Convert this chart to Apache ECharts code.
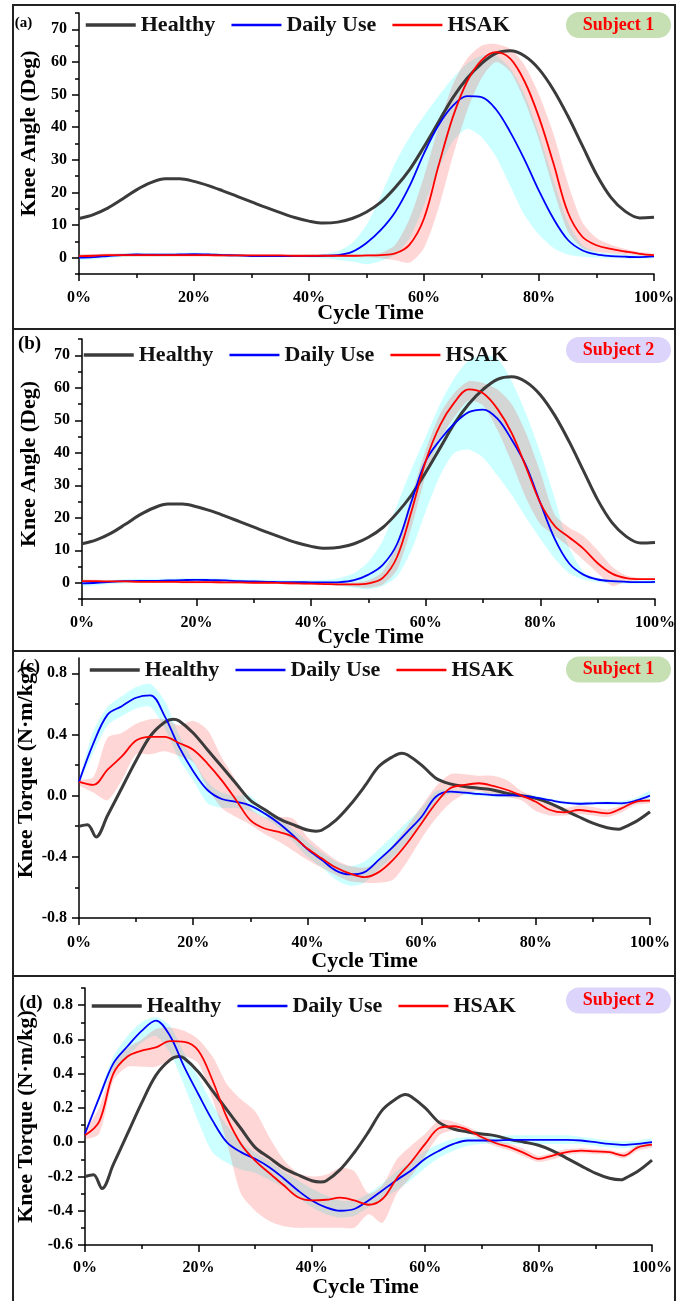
<!DOCTYPE html>
<html>
<head>
<meta charset="utf-8">
<script src="https://cdn.jsdelivr.net/npm/echarts@6/dist/echarts.min.js"></script>
<style>
  html, body { margin: 0; padding: 0; background: #fff; }
  #chart { width: 689px; height: 1301px; }
</style>
</head>
<body>
<div id="chart"></div>
<script>
// gait cycle sample points (%)
const pct = [0,2.5,5,7.5,10,12.5,15,17.5,20,22.5,25,27.5,30,32.5,35,37.5,40,42.5,45,47.5,50,
  52.5,55,57.5,60,62.5,65,67.5,70,72.5,75,77.5,80,82.5,85,87.5,90,92.5,95,97.5,100];

// healthy reference knee angle (same in a and b)
const healthyAngle = [12.0,13.2,15.2,17.9,20.8,23.0,24.2,24.2,23.4,22.1,20.5,18.8,17.1,15.4,13.8,12.3,11.2,10.6,10.9,12.0,14.0,
  17.0,21.5,27.0,34.0,41.5,49.0,55.0,59.5,62.6,63.4,61.8,57.8,51.5,43.5,34.5,25.5,18.5,14.2,12.2,12.4];

// (a) subject 1 knee angle
const dailyAngleA = [0.0,0.2,0.5,0.8,1.0,0.9,0.9,1.0,1.1,1.0,0.8,0.7,0.5,0.5,0.5,0.5,0.5,0.6,0.8,1.8,4.5,
  8.5,14.0,22.0,32.0,40.5,46.5,49.5,49.2,45.5,38.5,30.0,20.5,12.0,5.5,2.3,1.0,0.5,0.3,0.2,0.4];
const dailyAngleUpA = [0.8,0.9,1.1,1.3,1.5,1.4,1.4,1.5,1.6,1.5,1.3,1.1,0.9,0.9,0.9,0.9,1.0,1.2,2.0,4.5,10.0,
  19.0,29.0,37.0,43.5,49.5,55.0,59.5,62.0,62.0,58.0,50.0,38.0,24.0,11.0,4.0,1.8,1.2,1.0,0.9,1.0];
const dailyAngleLowA = [-0.6,-0.5,-0.2,0.2,0.4,0.4,0.4,0.5,0.6,0.5,0.3,0.2,0.1,0.1,0.1,0.1,0.0,-0.2,-0.6,-1.2,-2.0,
  -1.0,1.0,6.0,16.0,27.0,35.5,39.5,37.0,31.0,22.0,13.0,7.0,3.0,1.0,0.3,0.0,-0.2,-0.3,-0.3,-0.2];
const hsakAngleA = [0.5,0.6,0.8,0.8,0.8,0.8,0.8,0.8,0.8,0.8,0.7,0.7,0.7,0.7,0.7,0.6,0.6,0.6,0.6,0.6,0.7,
  0.8,1.3,4.0,12.0,28.0,43.0,54.0,60.5,63.0,61.0,54.0,43.0,29.0,14.0,6.5,3.8,2.7,1.9,1.2,0.8];
const hsakAngleUpA = [1.0,1.1,1.3,1.3,1.3,1.3,1.2,1.2,1.2,1.2,1.1,1.1,1.0,1.0,1.0,0.9,0.9,0.9,0.9,0.9,1.0,
  1.5,4.0,12.0,25.0,40.0,53.0,61.0,65.0,65.5,64.0,59.0,50.0,38.0,23.0,11.0,6.0,4.0,2.7,1.8,1.2];
const hsakAngleLowA = [0.0,0.1,0.3,0.3,0.3,0.3,0.3,0.3,0.3,0.3,0.3,0.3,0.3,0.3,0.3,0.3,0.3,0.3,0.3,0.2,0.1,
  -0.2,-0.8,-1.5,3.0,15.0,31.0,45.0,55.0,60.0,57.0,48.0,36.0,21.0,8.0,3.0,1.8,1.3,1.0,0.7,0.5];

// (b) subject 2 knee angle
const dailyAngleB = [-0.2,0.0,0.3,0.5,0.6,0.6,0.7,0.8,0.9,0.8,0.7,0.5,0.4,0.3,0.2,0.2,0.1,0.1,0.2,0.8,2.5,
  5.5,12.0,25.0,37.5,44.0,49.0,52.5,53.3,50.5,44.0,36.0,24.5,13.5,6.0,2.5,1.0,0.5,0.3,0.2,0.3];
const dailyAngleUpB = [0.6,0.7,0.9,1.1,1.2,1.2,1.3,1.4,1.5,1.4,1.3,1.1,1.0,0.9,0.8,0.8,0.8,0.9,1.5,3.0,6.5,
  13.0,24.0,35.0,45.0,55.0,63.0,68.5,70.0,69.0,62.0,52.0,40.0,26.0,11.0,3.5,1.5,1.0,0.8,0.7,0.8];
const dailyAngleLowB = [-1.0,-0.8,-0.4,-0.2,0.0,0.0,0.1,0.2,0.3,0.2,0.1,-0.1,-0.2,-0.3,-0.4,-0.4,-0.5,-0.6,-1.0,-1.5,-2.0,
  -1.0,2.0,10.0,22.0,33.0,40.0,41.0,38.5,33.0,27.0,20.0,13.5,7.5,3.0,1.0,0.2,-0.2,-0.3,-0.3,-0.2];
const hsakAngleB = [0.5,0.5,0.4,0.4,0.3,0.3,0.3,0.2,0.2,0.2,0.1,0.1,0.0,0.0,-0.1,-0.2,-0.3,-0.4,-0.5,-0.5,-0.2,
  1.5,8.0,22.0,37.5,48.5,55.5,59.5,58.3,53.5,46.0,35.5,24.5,17.5,14.0,10.5,6.0,2.8,1.4,1.1,1.1];
const hsakAngleUpB = [0.9,0.9,0.8,0.8,0.7,0.7,0.7,0.6,0.6,0.6,0.5,0.5,0.4,0.4,0.3,0.2,0.1,0.0,0.0,0.1,0.8,
  3.5,12.0,27.0,41.0,52.0,58.5,62.0,61.5,59.5,55.0,46.0,34.0,21.0,17.0,14.5,10.0,5.0,2.2,1.5,1.3];
const hsakAngleLowB = [0.1,0.1,0.0,0.0,-0.1,-0.1,-0.1,-0.2,-0.2,-0.2,-0.3,-0.3,-0.4,-0.4,-0.5,-0.6,-0.7,-0.8,-1.0,-1.2,-1.5,
  -0.5,4.0,17.0,33.0,44.0,51.0,56.0,54.5,47.0,37.0,26.0,18.0,14.5,11.0,7.0,3.0,-1.0,0.5,0.8,0.9];

// healthy reference knee torque (same in c and d), own sample points
const healthyTorqueX = [0,1.5,3,5,7.5,10,12.5,15,16.5,17.5,20,22.5,25,27.5,30,32.5,35,37.5,40,41.5,42.5,45,47.5,50,
  52.5,55,56.5,57.5,60,62.5,65,67.5,70,72.5,75,77.5,80,82.5,85,87.5,90,92.5,94.5,95,97.5,100];
const healthyTorque = [-0.20,-0.19,-0.27,-0.13,0.05,0.23,0.39,0.48,0.50,0.49,0.41,0.30,0.19,0.08,-0.03,-0.09,-0.15,-0.19,-0.225,-0.232,-0.226,-0.16,-0.06,0.06,
  0.19,0.256,0.278,0.267,0.20,0.114,0.077,0.06,0.048,0.037,0.015,0.0,-0.018,-0.05,-0.094,-0.138,-0.18,-0.21,-0.219,-0.215,-0.17,-0.105];

// (c) subject 1 knee torque
const dailyTorqueC = [0.09,0.34,0.53,0.585,0.64,0.655,0.52,0.32,0.16,0.037,-0.022,-0.04,-0.065,-0.116,-0.18,-0.26,-0.35,-0.42,-0.49,-0.515,-0.5,
  -0.42,-0.335,-0.237,-0.138,-0.007,0.026,0.02,0.011,0.004,0.002,0.0,-0.013,-0.03,-0.046,-0.053,-0.05,-0.048,-0.05,-0.033,0.0];
const dailyTorqueUpC = [0.10,0.42,0.58,0.65,0.71,0.73,0.62,0.40,0.23,0.09,0.02,0.0,0.0,-0.09,-0.15,-0.22,-0.30,-0.37,-0.43,-0.46,-0.43,
  -0.35,-0.26,-0.17,-0.08,0.03,0.04,0.035,0.025,0.02,0.015,0.012,0.0,-0.018,-0.035,-0.04,-0.038,-0.036,-0.035,-0.015,0.03];
const dailyTorqueLowC = [0.08,0.28,0.46,0.52,0.57,0.58,0.44,0.24,0.10,-0.05,-0.08,-0.08,-0.10,-0.145,-0.21,-0.30,-0.40,-0.47,-0.55,-0.59,-0.57,
  -0.48,-0.40,-0.30,-0.19,-0.04,0.01,0.005,-0.003,-0.01,-0.012,-0.012,-0.025,-0.042,-0.057,-0.066,-0.063,-0.06,-0.065,-0.05,-0.03];
const hsakTorqueC = [0.09,0.07,0.17,0.256,0.36,0.384,0.384,0.344,0.30,0.21,0.10,-0.028,-0.16,-0.215,-0.237,-0.27,-0.346,-0.41,-0.47,-0.51,-0.533,
  -0.5,-0.42,-0.31,-0.18,-0.05,0.048,0.07,0.081,0.064,0.037,0.0,-0.04,-0.094,-0.11,-0.094,-0.105,-0.116,-0.083,-0.04,-0.033];
const hsakTorqueUpC = [0.10,0.12,0.38,0.41,0.47,0.50,0.50,0.46,0.49,0.43,0.25,0.10,-0.08,-0.14,-0.14,-0.15,-0.27,-0.35,-0.42,-0.46,-0.47,
  -0.43,-0.32,-0.20,-0.07,0.06,0.14,0.14,0.13,0.13,0.10,0.03,-0.01,-0.06,-0.08,-0.065,-0.075,-0.09,-0.065,-0.025,-0.02];
const hsakTorqueLowC = [0.07,0.02,-0.03,0.10,0.27,0.27,0.29,0.26,0.22,0.05,-0.08,-0.14,-0.19,-0.25,-0.30,-0.36,-0.42,-0.47,-0.52,-0.56,-0.57,
  -0.57,-0.55,-0.43,-0.28,-0.15,-0.05,0.01,0.03,0.0,-0.01,-0.03,-0.10,-0.13,-0.13,-0.12,-0.13,-0.14,-0.11,-0.06,-0.05];

// (d) subject 2 knee torque
const dailyTorqueD = [0.05,0.26,0.46,0.56,0.65,0.71,0.62,0.44,0.28,0.126,0.0,-0.058,-0.097,-0.146,-0.21,-0.28,-0.34,-0.38,-0.40,-0.39,-0.34,
  -0.28,-0.22,-0.165,-0.097,-0.049,-0.01,0.01,0.01,0.01,0.014,0.014,0.014,0.014,0.014,0.01,0.0,-0.01,-0.016,-0.01,0.0];
const dailyTorqueUpD = [0.06,0.28,0.50,0.62,0.70,0.73,0.68,0.52,0.38,0.22,0.10,0.0,-0.06,-0.11,-0.17,-0.22,-0.27,-0.31,-0.34,-0.34,-0.30,
  -0.24,-0.17,-0.11,-0.05,-0.01,0.02,0.03,0.03,0.035,0.04,0.04,0.04,0.04,0.04,0.03,0.02,0.01,0.005,0.01,0.02];
const dailyTorqueLowD = [0.04,0.24,0.42,0.50,0.58,0.62,0.52,0.33,0.12,-0.06,-0.12,-0.16,-0.18,-0.22,-0.26,-0.32,-0.38,-0.42,-0.44,-0.43,-0.38,
  -0.33,-0.28,-0.22,-0.15,-0.09,-0.05,-0.02,-0.01,-0.01,-0.01,-0.01,-0.01,-0.01,-0.01,-0.01,-0.02,-0.03,-0.035,-0.03,-0.02];
const hsakTorqueD = [0.04,0.12,0.40,0.50,0.534,0.553,0.59,0.586,0.534,0.36,0.146,-0.01,-0.107,-0.18,-0.25,-0.32,-0.34,-0.336,-0.324,-0.34,-0.365,
  -0.33,-0.21,-0.117,-0.01,0.083,0.093,0.072,0.029,-0.006,-0.03,-0.064,-0.097,-0.078,-0.058,-0.049,-0.054,-0.058,-0.078,-0.03,-0.014];
const hsakTorqueUpD = [0.06,0.20,0.45,0.55,0.60,0.66,0.67,0.65,0.60,0.50,0.34,0.25,0.18,0.03,-0.10,-0.18,-0.20,-0.19,-0.15,-0.17,-0.30,
  -0.25,-0.10,-0.02,0.05,0.13,0.12,0.09,0.05,0.01,-0.01,-0.04,-0.08,-0.06,-0.04,-0.035,-0.04,-0.045,-0.06,-0.015,0.0];
const hsakTorqueLowD = [0.02,0.05,0.36,0.44,0.44,0.44,0.48,0.50,0.46,0.25,0.0,-0.30,-0.40,-0.46,-0.49,-0.50,-0.50,-0.50,-0.50,-0.50,-0.42,
  -0.47,-0.30,-0.20,-0.08,0.04,0.07,0.055,0.01,-0.025,-0.05,-0.085,-0.115,-0.10,-0.075,-0.065,-0.07,-0.072,-0.095,-0.05,-0.03];

// tick labels
const angleTicks = [0,10,20,30,40,50,60,70];
const angleMinor = [-5,5,15,25,35,45,55,65,75];
const torqueTicksC = [-0.8,-0.4,0,0.4,0.8];
const torqueMinorC = [-0.6,-0.2,0.2,0.6];
const torqueTicksD = [-0.6,-0.4,-0.2,0,0.2,0.4,0.6,0.8];
const torqueMinorD = [-0.5,-0.3,-0.1,0.1,0.3,0.5,0.7,0.9];
const seriesNames = ['Healthy', 'Daily Use', 'HSAK'];

const SERIF = '"Liberation Serif", "Times New Roman", serif';
const CYAN = 'rgba(0,255,255,0.2)';
const PINK = 'rgba(255,0,0,0.16)';
const LINE_COLORS = { 'Healthy': '#3b3b3b', 'Daily Use': '#0000ff', 'HSAK': '#ff0000' };
const LINE_WIDTHS = { 'Healthy': 3, 'Daily Use': 1.8, 'HSAK': 1.8 };

function pairs(xs, ys) {
  return xs.map((x, i) => [x, ys[i]]);
}

function line(g, name, xs, ys) {
  const color = LINE_COLORS[name];
  return {
    type: 'line', name: name, xAxisIndex: g, yAxisIndex: g * 2,
    data: pairs(xs, ys), symbol: 'none', showSymbol: false, smooth: 0.35,
    color: color, lineStyle: { color: color, width: LINE_WIDTHS[name] }, z: 3, silent: true
  };
}

// shaded +-SD band, drawn as one polygon through the axis scales
function band(g, up, low, color) {
  return {
    type: 'custom', xAxisIndex: g, yAxisIndex: g * 2, clip: true, silent: true, z: 2,
    data: [[50, 0]],
    renderItem: function (params, api) {
      const pts = [];
      for (let i = 0; i < pct.length; i++) pts.push(api.coord([pct[i], up[i]]));
      for (let i = pct.length - 1; i >= 0; i--) pts.push(api.coord([pct[i], low[i]]));
      return { type: 'polygon', shape: { points: pts, smooth: 0.25 }, style: { fill: color } };
    }
  };
}

const labelFont = { color: '#000', fontFamily: SERIF, fontWeight: 'bold', fontSize: 16 };
const nameFont = { color: '#000', fontFamily: SERIF, fontWeight: 'bold', fontSize: 22 };

function xAxis(g, nameGap, shift, margin) {
  return {
    type: 'value', gridIndex: g, min: 0, max: 100, interval: 20,
    axisLine: { onZero: false, lineStyle: { color: '#000', width: 1.5 } },
    axisTick: { length: 7, lineStyle: { color: '#000', width: 1.5 } },
    minorTick: { show: true, splitNumber: 2, length: 4, lineStyle: { color: '#000', width: 1.5 } },
    splitLine: { show: false },
    axisLabel: Object.assign({ formatter: v => v + '%', margin: margin, showMinLabel: true, showMaxLabel: true }, labelFont),
    name: 'Cycle Time', nameLocation: 'middle', nameGap: nameGap, nameMoveOverlap: false,
    nameTextStyle: Object.assign({ padding: shift > 0 ? [0, 0, 0, shift * 2] : [0, -shift * 2, 0, 0] }, nameFont)
  };
}

function yAxes(g, min, max, ticks, minor, fmt, name, nameGap, up) {
  const main = {
    type: 'value', gridIndex: g, position: 'left', min: min, max: max,
    axisLine: { show: true, onZero: false, lineStyle: { color: '#000', width: 1.5 } },
    axisTick: { show: true, length: 7, customValues: ticks, lineStyle: { color: '#000', width: 1.5 } },
    splitLine: { show: false },
    axisLabel: Object.assign({ customValues: ticks, formatter: fmt, margin: 12 }, labelFont),
    name: name, nameLocation: 'middle', nameGap: nameGap, nameMoveOverlap: false,
    nameTextStyle: Object.assign({ padding: [0, 0, 0, up * 2] }, nameFont)
  };
  const minorAxis = {
    type: 'value', gridIndex: g, position: 'left', min: min, max: max,
    axisLine: { show: false, onZero: false },
    axisTick: { show: true, length: 4, customValues: minor, lineStyle: { color: '#000', width: 1.5 } },
    axisLabel: { show: false, customValues: minor },
    splitLine: { show: false }
  };
  return [main, minorAxis];
}

const fmtInt = v => String(Math.round(v));
const fmtOne = v => (Math.abs(v) < 1e-9 ? 0 : v).toFixed(1);

function panelSeries(g, hx, hy, daily, dUp, dLow, hsak, hUp, hLow) {
  return [
    band(g, dUp, dLow, CYAN),
    band(g, hUp, hLow, PINK),
    line(g, 'Healthy', hx, hy),
    line(g, 'Daily Use', pct, daily),
    line(g, 'HSAK', pct, hsak)
  ];
}

function legend(left, top) {
  return {
    left: left, top: top, padding: 0, orient: 'horizontal', itemWidth: 50, itemHeight: 14, itemGap: 15,
    selectedMode: false,
    data: seriesNames.map(n => ({ name: n, lineStyle: { color: LINE_COLORS[n], width: LINE_WIDTHS[n] + 0.5 } })),
    itemStyle: { opacity: 0 },
    textStyle: { color: '#111', fontFamily: SERIF, fontWeight: 'bold', fontSize: 22 }
  };
}

function badge(cy, text, fill) {
  return [
    { type: 'rect', shape: { x: 566, y: cy - 13, width: 105, height: 26, r: 13 }, style: { fill: fill }, z: 10 },
    { type: 'text', x: 618.5, y: cy, z: 11,
      style: { text: text, fill: '#ff0000', font: 'bold 18px ' + SERIF, textAlign: 'center', textVerticalAlign: 'middle' } }
  ];
}

function tag(cx, cy, text, size) {
  return { type: 'text', x: cx, y: cy, z: 11,
    style: { text: text, fill: '#000', font: 'bold ' + size + 'px ' + SERIF, textAlign: 'center', textVerticalAlign: 'middle' } };
}

const frame = [
  { type: 'rect', shape: { x: 13, y: 5, width: 662, height: 1330 }, style: { fill: 'none', stroke: '#222', lineWidth: 2 }, z: 20 },
  { type: 'line', shape: { x1: 13, y1: 329, x2: 675, y2: 329 }, style: { stroke: '#222', lineWidth: 2 }, z: 20 },
  { type: 'line', shape: { x1: 13, y1: 651, x2: 675, y2: 651 }, style: { stroke: '#222', lineWidth: 2 }, z: 20 },
  { type: 'line', shape: { x1: 13, y1: 976, x2: 675, y2: 976 }, style: { stroke: '#222', lineWidth: 2 }, z: 20 }
];

const option = {
  animation: false,
  backgroundColor: '#fff',
  grid: [
    { left: 79, top: 13, width: 575, height: 261, outerBoundsMode: 'none' },
    { left: 82, top: 339, width: 573, height: 260, outerBoundsMode: 'none' },
    { left: 79, top: 658, width: 571, height: 260, outerBoundsMode: 'none' },
    { left: 85, top: 988, width: 567, height: 257, outerBoundsMode: 'none' }
  ],
  xAxis: [xAxis(0, 28, 4, 16), xAxis(1, 27, 2, 16), xAxis(2, 32, 0, 17), xAxis(3, 31, -3, 15)],
  yAxis: [].concat(
    yAxes(0, -5, 75, angleTicks, angleMinor, fmtInt, 'Knee Angle (Deg)', 39, 10),
    yAxes(1, -5, 75, angleTicks, angleMinor, fmtInt, 'Knee Angle (Deg)', 42, 5),
    yAxes(2, -0.8, 0.9, torqueTicksC, torqueMinorC, fmtOne, 'Knee Torque (N·m/kg)', 42, 16),
    yAxes(3, -0.6, 0.9, torqueTicksD, torqueMinorD, fmtOne, 'Knee Torque (N·m/kg)', 48, 0)
  ),
  legend: [legend(84, 14), legend(82, 344), legend(88, 659), legend(90, 995)],
  series: [].concat(
    panelSeries(0, pct, healthyAngle, dailyAngleA, dailyAngleUpA, dailyAngleLowA, hsakAngleA, hsakAngleUpA, hsakAngleLowA),
    panelSeries(1, pct, healthyAngle, dailyAngleB, dailyAngleUpB, dailyAngleLowB, hsakAngleB, hsakAngleUpB, hsakAngleLowB),
    panelSeries(2, healthyTorqueX, healthyTorque, dailyTorqueC, dailyTorqueUpC, dailyTorqueLowC, hsakTorqueC, hsakTorqueUpC, hsakTorqueLowC),
    panelSeries(3, healthyTorqueX, healthyTorque, dailyTorqueD, dailyTorqueUpD, dailyTorqueLowD, hsakTorqueD, hsakTorqueUpD, hsakTorqueLowD)
  ),
  graphic: [].concat(
    frame,
    badge(25, 'Subject 1', '#c6e0b4'),
    badge(350, 'Subject 2', '#dcd4fa'),
    badge(669.5, 'Subject 1', '#c6e0b4'),
    badge(1000.5, 'Subject 2', '#dcd4fa'),
    [tag(23.5, 23.5, '(a)', 15), tag(29.5, 344, '(b)', 19), tag(30, 667, '(c)', 18), tag(31, 1003.5, '(d)', 19)]
  )
};

const chart = echarts.init(document.getElementById('chart'), null, { renderer: 'canvas' });
chart.setOption(option);
</script>
</body>
</html>
